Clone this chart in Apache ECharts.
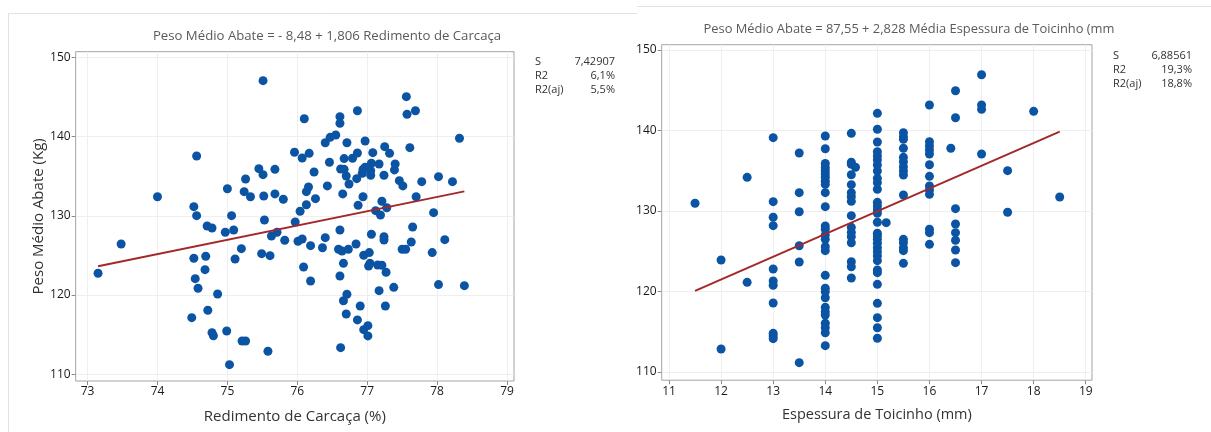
<!DOCTYPE html>
<html>
<head>
<meta charset="utf-8">
<script src="https://cdn.jsdelivr.net/npm/echarts@6/dist/echarts.min.js"></script>
<style>
  html, body { margin: 0; padding: 0; background: #ffffff; }
  #chart { width: 1211px; height: 432px; }
</style>
</head>
<body>
<div id="chart"></div>
<script>
// Rendimento de carcaça (%) vs peso médio de abate (kg)
const rendimentoPoints = [
  [73.15,122.75],[73.48,126.45],[74.00,132.42],[74.49,117.15],[74.52,124.65],[74.52,131.16],
  [74.54,122.07],[74.56,137.56],[74.56,130.03],[74.58,120.86],[74.68,123.21],[74.69,124.90],
  [74.71,128.72],[74.72,118.08],[74.78,128.47],[74.78,115.25],[74.80,114.87],[74.86,120.14],
  [74.97,127.93],[74.99,115.47],[75.00,133.43],[75.03,111.21],[75.06,130.03],[75.09,128.22],
  [75.11,124.56],[75.20,125.86],[75.21,114.20],[75.24,133.06],[75.26,134.66],[75.26,114.20],
  [75.33,132.42],[75.45,135.96],[75.49,125.23],[75.51,135.20],[75.51,147.07],[75.52,132.51],
  [75.53,129.48],[75.58,112.90],[75.61,124.98],[75.63,127.46],[75.68,135.88],[75.68,132.77],
  [75.71,127.93],[75.80,132.10],[75.82,126.92],[75.96,138.03],[75.97,129.23],[76.01,126.79],
  [76.04,130.58],[76.07,127.08],[76.07,137.31],[76.09,123.55],[76.10,142.27],[76.13,133.06],
  [76.13,131.41],[76.16,133.65],[76.17,137.90],[76.19,126.24],[76.19,121.78],[76.24,135.54],
  [76.26,132.17],[76.36,125.98],[76.40,127.25],[76.40,139.24],[76.43,133.78],[76.46,136.77],
  [76.47,139.92],[76.55,140.21],[76.59,125.78],[76.61,142.53],[76.61,141.69],[76.61,128.22],
  [76.61,122.41],[76.62,135.92],[76.62,113.36],[76.64,125.57],[76.65,132.77],[76.66,124.01],
  [76.66,119.29],[76.67,137.23],[76.67,135.88],[76.70,135.04],[76.70,117.61],[76.71,139.24],
  [76.71,120.10],[76.73,125.78],[76.74,134.03],[76.79,137.27],[76.84,126.45],[76.85,134.70],
  [76.86,143.28],[76.86,137.94],[76.86,116.86],[76.87,131.34],[76.90,118.62],[76.93,135.38],
  [76.94,135.88],[76.94,132.42],[76.95,125.03],[76.95,115.63],[76.97,139.46],[76.97,136.14],
  [77.01,136.09],[77.01,116.14],[77.01,114.84],[77.02,123.67],[77.03,125.36],[77.04,124.01],
  [77.05,135.71],[77.05,135.13],[77.06,136.64],[77.06,127.68],[77.08,137.98],[77.12,130.66],
  [77.15,123.80],[77.17,136.55],[77.17,120.56],[77.19,130.11],[77.21,131.84],[77.21,123.76],
  [77.24,135.13],[77.24,127.37],[77.24,126.96],[77.25,138.74],[77.26,118.62],[77.27,122.88],
  [77.28,131.03],[77.32,137.90],[77.38,120.98],[77.39,135.80],[77.40,136.55],[77.46,134.45],
  [77.50,125.78],[77.51,133.78],[77.55,125.78],[77.56,145.05],[77.57,142.83],[77.61,138.61],
  [77.63,126.70],[77.65,128.60],[77.69,143.28],[77.70,132.42],[77.78,134.32],[77.93,125.36],
  [77.95,130.41],[78.02,134.95],[78.02,121.32],[78.11,127.00],[78.22,134.32],[78.32,139.80],
  [78.39,121.19]
];

// Espessura de toicinho (mm) vs peso médio de abate (kg)
const toicinhoPoints = [
  [11.5,130.96],
  [12,123.91],[12,112.86],
  [12.5,134.18],[12.5,121.14],
  [13,139.11],[13,131.16],[13,129.22],[13,128.18],[13,122.80],[13,121.30],[13,120.77],
  [13,118.57],[13,114.80],[13,114.47],[13,114.14],
  [13.5,137.20],[13.5,132.28],[13.5,129.91],[13.5,125.69],[13.5,123.66],[13.5,111.16],
  [14,139.32],[14,137.74],[14,135.90],[14,135.40],[14,135.00],[14,134.60],[14,134.20],
  [14,133.70],[14,133.30],[14,132.28],[14,130.54],[14,128.14],[14,127.73],[14,127.02],
  [14,126.48],[14,125.57],[14,125.07],[14,122.01],[14,120.40],[14,119.98],[14,119.23],
  [14,118.03],[14,117.49],[14,117.08],[14,116.05],[14,115.50],[14,114.88],[14,113.27],
  [14.5,139.65],[14.5,136.05],[14.5,135.80],[14.5,134.51],[14.5,133.27],[14.5,132.28],
  [14.5,131.78],[14.5,131.20],[14.5,129.42],[14.5,127.97],[14.5,127.35],[14.5,126.81],
  [14.5,126.06],[14.5,123.70],[14.5,123.08],[14.5,121.68],
  [14.58,135.43],
  [15,142.13],[15,140.15],[15,138.57],[15,137.37],[15,136.83],[15,136.34],[15,135.71],
  [15,134.97],[15,134.06],[15,133.52],[15,132.70],[15,131.08],[15,130.62],[15,130.12],
  [15,129.71],[15,128.60],[15,127.23],[15,126.89],[15,126.48],[15,125.99],[15,125.44],
  [15,124.94],[15,124.41],[15,123.83],[15,122.67],[15,122.34],[15,120.89],[15,118.53],
  [15,116.75],[15,115.50],[15,114.19],
  [15.17,128.55],
  [15.5,139.73],[15.5,139.23],[15.5,138.90],[15.5,137.79],[15.5,136.67],[15.5,136.12],
  [15.5,135.50],[15.5,134.97],[15.5,134.47],[15.5,131.99],[15.5,126.48],[15.5,126.06],
  [15.5,125.44],[15.5,125.07],[15.5,123.50],
  [16,143.17],[16,138.61],[16,138.07],[16,137.58],[16,137.08],[16,135.75],[16,134.31],
  [16,133.11],[16,132.61],[16,132.07],[16,127.73],[16,127.31],[16,125.86],
  [16.41,137.79],
  [16.5,144.94],[16.5,141.59],[16.5,130.29],[16.5,128.39],[16.5,127.31],[16.5,126.36],
  [16.5,125.16],[16.5,123.58],
  [17,146.93],[17,143.17],[17,142.63],[17,137.08],
  [17.5,135.01],[17.5,129.84],
  [18,142.38],
  [18.5,131.74]
];

// Fitted lines: [intercept, slope]
const fitRendimento = [-8.48, 1.806];
const fitToicinho = [87.55, 2.828];

// Tick labels
const rendimentoTicks = [73, 74, 75, 76, 77, 78, 79];
const toicinhoTicks = [11, 12, 13, 14, 15, 16, 17, 18, 19];
const pesoTicks = [110, 120, 130, 140, 150];

// Model summary
const statNames = ['S', 'R2', 'R2(aj)'];
const statsRendimento = ['7,42907', '6,1%', '5,5%'];
const statsToicinho = ['6,88561', '19,3%', '18,8%'];

const titleRendimento = 'Peso Médio Abate = - 8,48 + 1,806 Redimento de Carcaça';
const titleToicinho = 'Peso Médio Abate = 87,55 + 2,828 Média Espessura de Toicinho (mm';

const FONT = '"Open Sans", "Noto Sans", sans-serif';
const DOT = '#0b54a4';
const FIT = '#a3282a';

// regression segment spanning the observed x range
function fitLine(points, coef) {
  const xs = points.map(p => p[0]);
  const x0 = Math.min(...xs), x1 = Math.max(...xs);
  return [[x0, coef[0] + coef[1] * x0], [x1, coef[0] + coef[1] * x1]];
}

function valueAxis(idx, min, max, ticks, extra) {
  return Object.assign({
    type: 'value', gridIndex: idx, min: min, max: max,
    axisLine: { show: false },
    axisTick: { show: true, inside: false, length: 4, customValues: ticks,
                lineStyle: { color: '#8a8a8a', width: 1 } },
    axisLabel: { customValues: ticks, color: '#1a1a1a', fontSize: 12, fontFamily: FONT, margin: 5 },
    splitLine: { show: true, lineStyle: { color: '#efefef', width: 1 } }
  }, extra || {});
}

function statsNames(x0, y0) {
  return statNames.map((name, i) => ({
    type: 'text', left: x0, top: y0 + i * 14,
    style: { text: name, font: '11px ' + FONT, fill: '#333' }
  }));
}

function statsValues(values, xRight, y0) {
  return values.map((v, i) => ({
    type: 'text', x: xRight, y: y0 + i * 14,
    style: { text: v, font: '11px ' + FONT, fill: '#333', align: 'right', verticalAlign: 'top' }
  }));
}

const nameStyle = { color: '#333', fontSize: 15, fontFamily: FONT };
const titleStyle = { color: '#5a5a5a', fontSize: 13.2, fontWeight: 'normal', fontFamily: FONT };

const chart = echarts.init(document.getElementById('chart'), null, { renderer: 'canvas' });

chart.setOption({
  backgroundColor: '#ffffff',
  animation: false,
  title: [
    { text: titleRendimento, left: 322, top: 25, textAlign: 'center', textStyle: titleStyle },
    { text: titleToicinho, left: 904, top: 18, textAlign: 'center',
      textStyle: Object.assign({}, titleStyle, { fontSize: 12.9 }) }
  ],
  grid: [
    { left: 75.7, top: 51.7, width: 438.3, height: 329.3, show: true,
      borderColor: '#a3a3a3', borderWidth: 1, backgroundColor: '#ffffff' },
    { left: 661.7, top: 44.7, width: 430.3, height: 335.5, show: true,
      borderColor: '#a3a3a3', borderWidth: 1, backgroundColor: '#ffffff' }
  ],
  xAxis: [
    valueAxis(0, 72.83, 79.10, rendimentoTicks, {
      name: 'Redimento de Carcaça (%)', nameLocation: 'middle', nameGap: 28,
      nameTextStyle: nameStyle }),
    valueAxis(1, 10.86, 19.12, toicinhoTicks, {
      name: 'Espessura de Toicinho (mm)', nameLocation: 'middle', nameGap: 27,
      nameTextStyle: Object.assign({}, nameStyle, { fontSize: 14.5 }) })
  ],
  yAxis: [
    valueAxis(0, 109.15, 150.73, pesoTicks, {
      name: 'Peso Médio Abate (Kg)', nameLocation: 'middle', nameGap: 27,
      nameTextStyle: nameStyle }),
    valueAxis(1, 108.98, 150.66, pesoTicks)
  ],
  series: [
    { type: 'scatter', xAxisIndex: 0, yAxisIndex: 0, data: rendimentoPoints,
      symbol: 'circle', symbolSize: 9, itemStyle: { color: DOT, opacity: 1 }, z: 2 },
    { type: 'line', xAxisIndex: 0, yAxisIndex: 0, data: fitLine(rendimentoPoints, fitRendimento),
      symbol: 'none', lineStyle: { color: FIT, width: 2 }, z: 3 },
    { type: 'scatter', xAxisIndex: 1, yAxisIndex: 1, data: toicinhoPoints,
      symbol: 'circle', symbolSize: 9, itemStyle: { color: DOT, opacity: 1 }, z: 2 },
    { type: 'line', xAxisIndex: 1, yAxisIndex: 1, data: fitLine(toicinhoPoints, fitToicinho),
      symbol: 'none', lineStyle: { color: FIT, width: 2 }, z: 3 }
  ],
  graphic: [
    // panel frames
    { type: 'line', shape: { x1: 8, y1: 13.5, x2: 637, y2: 13.5 }, style: { stroke: '#e2e2e2', lineWidth: 1 } },
    { type: 'line', shape: { x1: 8.5, y1: 13, x2: 8.5, y2: 432 }, style: { stroke: '#e2e2e2', lineWidth: 1 } },
    { type: 'line', shape: { x1: 637, y1: 6.5, x2: 1211, y2: 6.5 }, style: { stroke: '#e2e2e2', lineWidth: 1 } }
  ]
    .concat(statsNames(535, 56))
    .concat(statsValues(statsRendimento, 615, 56))
    .concat(statsNames(1113, 50))
    .concat(statsValues(statsToicinho, 1192, 50))
});
</script>
</body>
</html>
